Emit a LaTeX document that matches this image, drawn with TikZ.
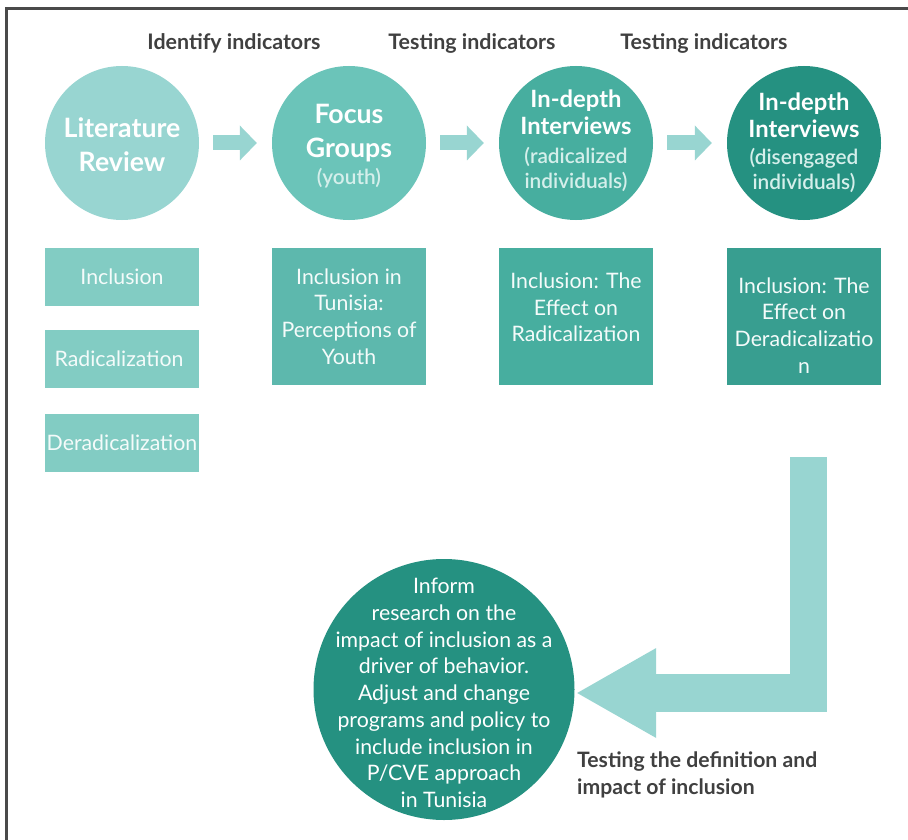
\documentclass[tikz,border=0pt]{standalone}
\usepackage{fontspec}
\setmainfont{Lato}
\newfontfamily\lightfont{Lato Light}
\usetikzlibrary{arrows.meta}

\definecolor{frameline}{HTML}{4A4A4A}
\definecolor{headtext}{HTML}{404040}
\definecolor{tealA}{HTML}{98D5D1}
\definecolor{tealB}{HTML}{6BC4B9}
\definecolor{tealC}{HTML}{47AE9F}
\definecolor{tealD}{HTML}{259181}
\definecolor{boxA}{HTML}{82CCC3}
\definecolor{boxB}{HTML}{5DB8AD}
\definecolor{boxC}{HTML}{47AE9F}
\definecolor{boxD}{HTML}{389E90}
\definecolor{paletext}{HTML}{F4FBFA}
\definecolor{subtext}{HTML}{D5EFEB}
\definecolor{arrowfill}{HTML}{98D5D1}

\newcommand{\subline}[1]{{\lightfont\fontsize{20.8}{25}\selectfont\color{subtext}#1}}

\begin{document}
\begin{tikzpicture}[x=1pt,y=-1pt,
  stage/.style={circle,inner sep=0pt,minimum size=154pt,draw=none},
  topicbox/.style={rectangle,inner sep=0pt,minimum width=154pt,draw=none},
  headline/.style={font=\fontsize{21.4}{24}\selectfont\bfseries,text=headtext,inner sep=0pt},
  bigtitle/.style={font=\fontsize{26.7}{34}\selectfont\bfseries,text=white,align=center,inner sep=0pt},
  midtitle/.style={font=\fontsize{23.8}{27}\selectfont\bfseries,text=white,align=center,inner sep=0pt},
  boxtext/.style={font=\fontsize{21.3}{26.7}\selectfont,text=paletext,align=center,inner sep=0pt},
  flowarrow/.style={draw=arrowfill,line width=15pt,shorten <=14pt,shorten >=15pt,
    -{Triangle[width=35pt,length=17pt,line width=0pt]}},
  bigarrow/.style={draw=arrowfill,line width=37.5pt,line join=miter,shorten >=2.5pt,
    -{Triangle[width=90pt,length=79pt,line width=0pt]}}
]
\useasboundingbox (0,0) rectangle (908,840);
\fill[white] (0,0) rectangle (908,840);

% frame
\draw[frameline,line width=2.5pt,line join=miter] (6.7,840) -- (6.7,8.7) -- (908,8.7);

% headings
\node[headline,anchor=base] (h1) at (234,50) {Identify indicators};
\node[headline,anchor=base] (h2) at (472,50) {Testing indicators};
\node[headline,anchor=base] (h3) at (704,50) {Testing indicators};

% research stages
\node[stage,fill=tealA] (c1) at (122,143) {};
\node[stage,fill=tealB] (c2) at (349,143) {};
\node[stage,fill=tealC] (c3) at (576,143) {};
\node[stage,fill=tealD] (c4) at (804,143) {};

\node[bigtitle] (c1t) at ([yshift=-2pt]c1.center) {Literature\\Review};
\node[bigtitle] (c2t) at ([yshift=-3pt]c2.center) {Focus\\Groups\\[-7pt]\subline{(youth)}};
\node[midtitle] (c3t) at ([yshift=2pt]c3.center) {In-depth\\Interviews\\[2pt]\subline{(radicalized}\\[-2pt]\subline{individuals)}};
\node[midtitle] (c4t) at ([yshift=0.5pt]c4.center) {In-depth\\Interviews\\[0pt]\subline{(disengaged}\\[-2pt]\subline{individuals)}};

\draw[flowarrow] (c1) -- (c2);
\draw[flowarrow] (c2) -- (c3);
\draw[flowarrow] (c3) -- (c4);

% topic boxes
\node[topicbox,fill=boxA,minimum height=58pt] (b1) at (122,277) {};
\node[topicbox,fill=boxA,minimum height=58pt] (b2) at (122,359) {};
\node[topicbox,fill=boxA,minimum height=58pt] (b3) at (122,443) {};
\node[boxtext] (b1t) at (b1.center) {Inclusion};
\node[boxtext] (b2t) at ([xshift=-3pt]b2.center) {Radicalization};
\node[boxtext] (b3t) at (b3.center) {Deradicalization};

\node[topicbox,fill=boxB,minimum height=137pt] (f1) at (349,316.5) {};
\node[topicbox,fill=boxC,minimum height=137pt] (r1) at (576,316.5) {};
\node[topicbox,fill=boxD,minimum height=137pt] (d1) at (804,316.5) {};
\node[boxtext] (f1t) at (f1.center) {Inclusion in\\Tunisia:\\Perceptions of\\Youth};
\node[boxtext] (r1t) at ([yshift=9pt]r1.center) {Inclusion: The\\Effect on\\Radicalization};
\node[boxtext] (d1t) at ([yshift=-9pt]d1.center) {Inclusion: The\\Effect on\\Deradicalizatio\\n};

% outcome
\node[circle,inner sep=0pt,minimum size=261pt,fill=tealD] (c5) at (444,689.5) {};
\node[boxtext,text=white] (c5t) at ([yshift=-3.5pt]c5.center)
  {Inform\\research on the\\impact of inclusion as a\\driver of behavior.\\Adjust and change\\programs and policy to\\include inclusion in\\P/CVE approach\\in Tunisia};

\coordinate (turn) at (808.5,457);
\draw[bigarrow] (turn) |- ([yshift=-3.5pt]c5.east);

\node[headline,font=\fontsize{21.2}{27}\selectfont\bfseries,align=left,anchor=west] (note) at (577,774.5)
  {Testing the definition and\\impact of inclusion};
\end{tikzpicture}
\end{document}
